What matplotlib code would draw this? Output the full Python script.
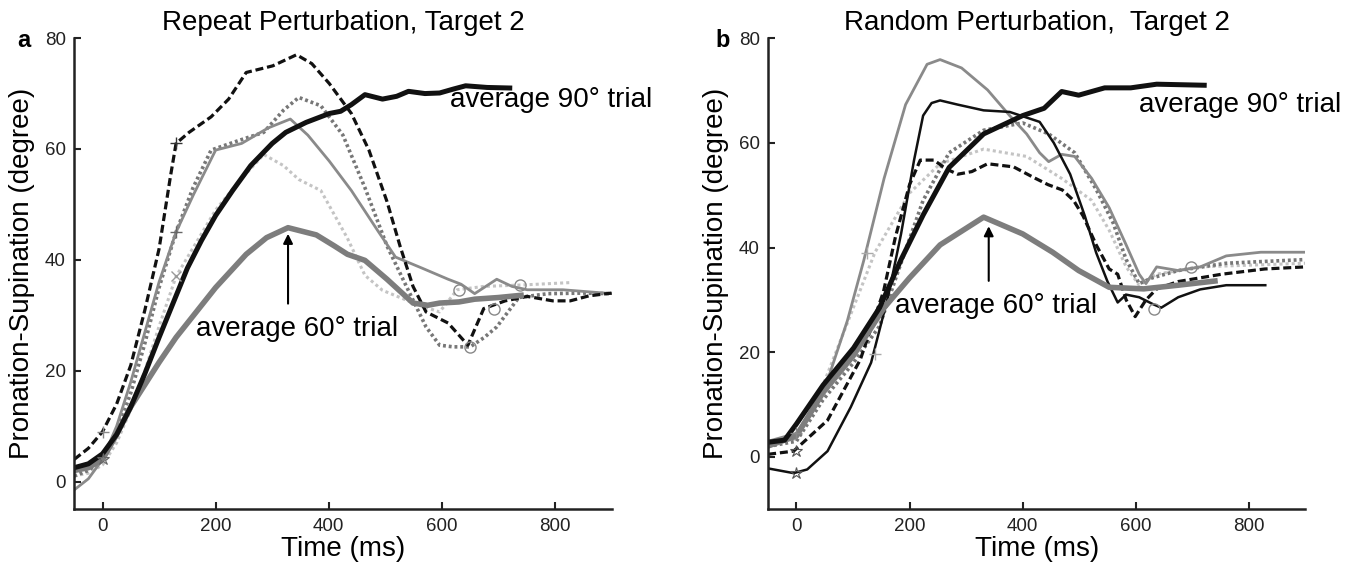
import matplotlib
matplotlib.use("Agg")
import matplotlib.pyplot as plt

# ---------------- Panel a: Repeat perturbation ----------------
a_avg90_t = [-50, -25, 0, 25, 50, 75, 100, 130, 150, 175, 200, 230, 262, 300, 324, 360, 401, 421, 440, 464, 495, 520, 541, 570, 596, 620, 642, 680, 720]
a_avg90_y = [2.5, 3.2, 5, 8.5, 13.5, 19.5, 26, 33.5, 38.5, 43.5, 48, 52.5, 57, 61, 63, 64.8, 66.4, 66.8, 68, 69.8, 69, 69.5, 70.4, 70, 70.1, 70.8, 71.4, 71.1, 71]

a_avg60_t = [-50, -25, 0, 25, 50, 75, 100, 130, 165, 200, 254, 290, 328, 378, 410, 433, 464, 503, 549, 575, 596, 630, 658, 700, 740]
a_avg60_y = [2, 2.5, 4, 8.5, 13.5, 17.5, 21.5, 26, 30.5, 35, 41, 44, 45.8, 44.5, 42.5, 41, 39.9, 36.5, 32.2, 31.8, 32.2, 32.4, 32.9, 33.2, 33.6]

a_dash_t = [-50, -25, 0, 25, 50, 75, 100, 120, 130, 153, 192, 223, 254, 301, 343, 370, 401, 440, 471, 503, 526, 549, 572, 611, 646, 674, 712, 751, 796, 827, 860, 900]
a_dash_y = [4, 6, 9, 14, 21, 31, 42, 55, 61, 63, 65.8, 69, 73.8, 75, 77, 75.4, 71.8, 66.4, 59.8, 50.5, 42.5, 35.2, 30.6, 28.6, 24.6, 31.2, 32.6, 33.4, 32.6, 32.6, 33.5, 34]

a_gray_t = [-50, -25, 0, 25, 50, 75, 100, 130, 161, 200, 246, 293, 332, 363, 401, 440, 487, 518, 565, 611, 634, 658, 697, 724, 751, 814, 851, 900]
a_gray_y = [-1.5, 0.5, 4, 10, 18, 27, 36, 45, 51.8, 59.8, 61, 63.8, 65.4, 62.5, 57.8, 52.5, 45.2, 40.5, 38.5, 36.5, 35.6, 33.9, 36.5, 35.2, 34.6, 34.6, 34.3, 33.9]

a_dot_t = [-50, -25, 0, 25, 50, 75, 100, 130, 160, 192, 240, 285, 320, 347, 386, 425, 464, 503, 534, 572, 596, 620, 650, 675, 697, 736, 788, 850, 900]
a_dot_y = [1, 2, 4, 9, 16, 25, 35, 45, 53, 59.8, 61.5, 63, 67, 69.3, 67.8, 62.5, 53, 42.5, 35.9, 27.9, 24.6, 24.3, 24.3, 26, 27.9, 33.2, 33.9, 34, 33.9]

a_light_t = [-50, -25, 0, 25, 50, 75, 100, 130, 165, 200, 240, 285, 320, 347, 386, 433, 464, 495, 557, 596, 627, 674, 750, 828]
a_light_y = [1, 1.5, 3, 7, 13, 20, 28, 37, 43, 49, 54, 59, 57, 54.5, 52.5, 43.9, 37.2, 34.5, 31.9, 30.6, 34.6, 35.2, 35.5, 35.9]

# ---------------- Panel b: Random perturbation ----------------
b_avg90_t = [-50, -21, 0, 47, 101, 147, 185, 224, 270, 331, 400, 438, 469, 499, 545, 591, 637, 721]
b_avg90_y = [2.8, 3.2, 6.3, 13.7, 20.8, 28.5, 37.7, 46.2, 55.3, 61.7, 65.2, 66.6, 69.8, 69.1, 70.5, 70.5, 71.2, 71]

b_avg60_t = [-50, 0, 47, 101, 155, 200, 254, 331, 400, 453, 499, 553, 614, 675, 740]
b_avg60_y = [2.1, 4, 12.3, 19.4, 28.5, 34.2, 40.5, 45.8, 42.6, 39.1, 35.6, 32.4, 32.1, 32.8, 33.6]

b_gray_t = [-50, 0, 50, 90, 119, 155, 193, 231, 254, 292, 338, 377, 407, 430, 446, 469, 492, 522, 553, 583, 606, 618, 637, 675, 714, 760, 821, 900]
b_gray_y = [3, 4.5, 13, 26, 37.5, 53.2, 67.3, 75, 75.9, 74.3, 70.1, 65.2, 61.7, 58.1, 56.4, 57.8, 57.4, 53.2, 47.6, 40.5, 34.9, 33.1, 36.3, 35.6, 36.3, 38.4, 39.1, 39.1]

b_black_t = [-50, -5, 19, 55, 96, 132, 162, 185, 208, 224, 239, 254, 285, 331, 377, 430, 455, 484, 510, 530, 550, 568, 583, 606, 630, 645, 675, 714, 760, 829]
b_black_y = [-2.2, -3.1, -2.4, 1.1, 9.5, 18, 30.6, 42.6, 56.7, 65.2, 67.6, 68.1, 67.3, 66.2, 65.9, 64, 60, 54, 46, 39, 33.5, 29.5, 31, 30.5, 29.2, 28.5, 30.5, 32, 32.8, 32.8]

b_dash_t = [-50, -5, 55, 113, 154, 175, 200, 219, 243, 265, 285, 310, 338, 384, 419, 445, 470, 490, 507, 530, 553, 568, 583, 599, 618, 637, 675, 752, 828, 900]
b_dash_y = [0.5, 1.1, 7, 18.6, 31.6, 42, 52, 56.7, 56.7, 55, 54, 54.5, 56, 55.4, 53.4, 52, 51, 49, 46, 40.5, 35.9, 34.9, 30, 26.8, 30, 32.1, 33.5, 34.9, 35.9, 36.3]

b_dot_t = [-50, 0, 47, 101, 147, 178, 224, 270, 331, 400, 446, 492, 530, 560, 583, 606, 629, 675, 760, 900]
b_dot_y = [2, 3, 10.9, 18, 25, 34.9, 49, 58.1, 62.4, 63.8, 61.7, 58.1, 51.1, 44.7, 37.7, 33.1, 34.2, 35.6, 37, 37.7]

b_light_t = [-50, 0, 47, 93, 139, 200, 254, 331, 407, 469, 522, 553, 583, 606, 637, 714, 900]
b_light_y = [2.5, 3.5, 13.7, 26.4, 39.1, 50.4, 56, 58.8, 57.4, 53.2, 49, 43.3, 36.3, 32.8, 34.9, 36.3, 37]

x_ticks = [0, 200, 400, 600, 800]
y_ticks = [0, 20, 40, 60, 80]
titles = ["Repeat Perturbation, Target 2", "Random Perturbation,  Target 2"]
letters = ["a", "b"]

plt.rcParams['font.family'] = ['Liberation Sans', 'DejaVu Sans']

fig = plt.figure(figsize=(13.5, 5.69), dpi=100)
ax1 = fig.add_axes([0.055, 0.105, 0.398, 0.828])
ax2 = fig.add_axes([0.569, 0.105, 0.398, 0.828])

BLACK = '#111111'
THICKGRAY = '#7d7d7d'
GRAY = '#8a8a8a'
DOTGRAY = '#777777'
LIGHT = '#c4c4c4'

def draw(ax, avg90, avg60, dash, gray, dot, light, black=None):
    ax.plot(*light, color=LIGHT, lw=2.2, ls=(0, (1, 1)))
    ax.plot(*dot, color=DOTGRAY, lw=2.6, ls=(0, (0.8, 0.8)))
    ax.plot(*gray, color=GRAY, lw=2.0)
    if black is not None:
        ax.plot(*black, color=BLACK, lw=1.8)
    ax.plot(*dash, color=BLACK, lw=2.3, ls=(0, (2.5, 1.2)))
    ax.plot(*avg60, color=THICKGRAY, lw=4.0)
    ax.plot(*avg90, color=BLACK, lw=3.6)

draw(ax1, (a_avg90_t, a_avg90_y), (a_avg60_t, a_avg60_y), (a_dash_t, a_dash_y),
     (a_gray_t, a_gray_y), (a_dot_t, a_dot_y), (a_light_t, a_light_y))
draw(ax2, (b_avg90_t, b_avg90_y), (b_avg60_t, b_avg60_y), (b_dash_t, b_dash_y),
     (b_gray_t, b_gray_y), (b_dot_t, b_dot_y), (b_light_t, b_light_y),
     black=(b_black_t, b_black_y))

# onset / end markers
ax1.plot([130], [61], marker='+', color='#333333', ms=9, mew=1)
ax1.plot([130], [45], marker='+', color='#666666', ms=9, mew=1)
ax1.plot([130], [37], marker='x', color='#999999', ms=7, mew=1)
ax1.plot([0], [4], marker='*', color='#666666', ms=9, mfc='none', mew=0.8)
ax1.plot([0], [9], marker='+', color='#888888', ms=8, mew=1)
for (cx, cy) in [(650, 24.3), (631, 34.6), (693, 31.2), (739, 35.5)]:
    ax1.plot([cx], [cy], marker='o', mfc='none', mec='#888888', ms=8, mew=1)

ax2.plot([0], [-3.1], marker='*', color='#555555', ms=9, mfc='none', mew=0.8)
ax2.plot([0], [1.1], marker='*', color='#555555', ms=9, mfc='none', mew=0.8)
ax2.plot([0], [4.5], marker='+', color='#888888', ms=8, mew=1)
ax2.plot([124], [39], marker='+', color='#aaaaaa', ms=9, mew=1)
ax2.plot([139], [19.7], marker='+', color='#aaaaaa', ms=9, mew=1)
for (cx, cy) in [(633, 28.2), (698, 36.3)]:
    ax2.plot([cx], [cy], marker='o', mfc='none', mec='#888888', ms=8, mew=1)

for ax, ylim, title, letter, lx in [(ax1, (-5, 80), titles[0], letters[0], -0.093),
                                    (ax2, (-10, 80), titles[1], letters[1], -0.084)]:
    ax.set_xlim(-50, 900)
    ax.set_ylim(*ylim)
    ax.set_xticks(x_ticks)
    ax.set_yticks(y_ticks)
    for s in ['top', 'right']:
        ax.spines[s].set_visible(False)
    for s in ['left', 'bottom']:
        ax.spines[s].set_linewidth(1.8)
        ax.spines[s].set_color('#222222')
    ax.tick_params(direction='in', length=5, width=1.5, labelsize=13.5,
                   colors='#222222', pad=6)
    ax.set_xlabel('Time (ms)', fontsize=20, labelpad=1)
    ax.set_ylabel('Pronation-Supination (degree)', fontsize=20, labelpad=7)
    ax.set_title(title, fontsize=20, pad=6)
    ax.text(lx, 0.995, letter, transform=ax.transAxes, fontsize=17,
            fontweight='bold', ha='center', va='center')

# annotations
ax1.annotate('', xy=(328, 45.2), xytext=(328, 31.6),
             arrowprops=dict(arrowstyle='-|>', color='black', lw=1.5, mutation_scale=14))
ax1.text(165, 27.6, 'average 60° trial', fontsize=20, va='center', ha='left')
ax1.text(615, 68.8, 'average 90° trial', fontsize=20, va='center', ha='left')

ax2.annotate('', xy=(340, 44.6), xytext=(340, 33.1),
             arrowprops=dict(arrowstyle='-|>', color='black', lw=1.5, mutation_scale=14))
ax2.text(174, 28.9, 'average 60° trial', fontsize=20, va='center', ha='left')
ax2.text(606, 67.3, 'average 90° trial', fontsize=20, va='center', ha='left')

fig.savefig('out.png', dpi=100)
